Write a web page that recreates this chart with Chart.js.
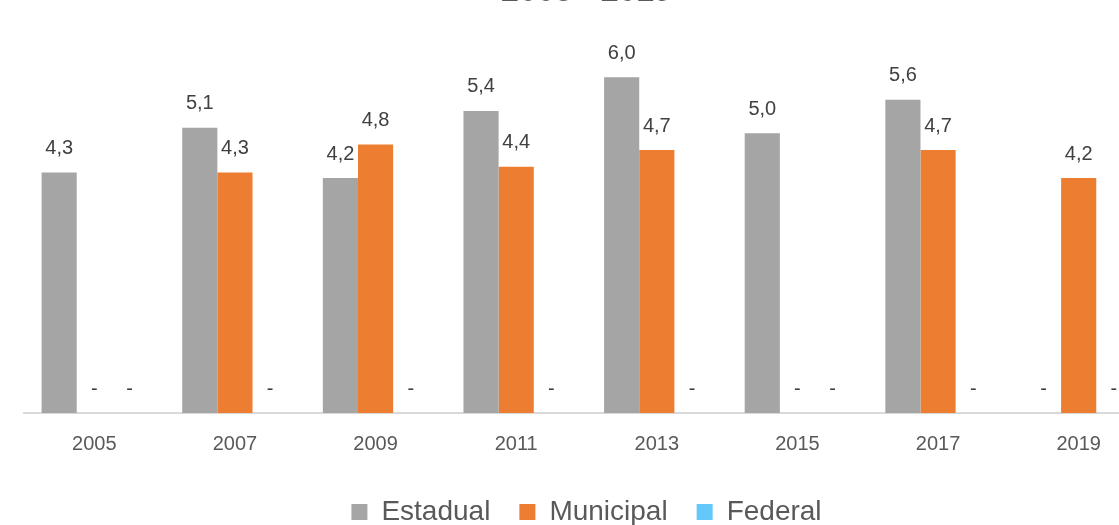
<!DOCTYPE html>
<html>
<head>
<meta charset="utf-8">
<script src="https://cdn.jsdelivr.net/npm/chart.js@4"></script>
<style>
    html, body {
        margin: 0;
        padding: 0;
        width: 1119px;
        height: 525px;
        overflow: hidden;
        background: #ffffff;
    }
    #wrap {
        position: relative;
        width: 1119px;
        height: 525px;
        overflow: hidden;
    }
    #chart {
        position: absolute;
        left: 0;
        top: -40px;
    }
</style>
</head>
<body>
<div id="wrap">
    <canvas id="chart" width="1150" height="576"></canvas>
</div>
<script>
// Anos e valores por rede de ensino
const years = ['2005', '2007', '2009', '2011', '2013', '2015', '2017', '2019'];
const estadual = [4.3, 5.1, 4.2, 5.4, 6.0, 5.0, 5.6, 0];
const municipal = [0, 4.3, 4.8, 4.4, 4.7, 0, 4.7, 4.2];
const federal = [0, 0, 0, 0, 0, 0, 0, 0];

const FONT = '"Liberation Sans", Arial, sans-serif';

// Writes the value above each bar, or a dash when it is zero
const barLabels = {
    id: 'barLabels',
    afterDatasetsDraw(chart) {
        const ctx = chart.ctx;
        ctx.save();
        ctx.font = '20px ' + FONT;
        ctx.fillStyle = '#404040';
        ctx.textAlign = 'center';
        ctx.textBaseline = 'middle';
        chart.data.datasets.forEach((ds, i) => {
            const meta = chart.getDatasetMeta(i);
            meta.data.forEach((bar, j) => {
                const v = ds.data[j];
                const text = v === 0 ? '-' : v.toFixed(1).replace('.', ',');
                ctx.fillText(text, bar.x, bar.y - 24);
            });
        });
        ctx.restore();
    }
};

const ctx = document.getElementById('chart').getContext('2d');
new Chart(ctx, {
    type: 'bar',
    data: {
        labels: years,
        datasets: [
            { label: 'Estadual', data: estadual, backgroundColor: '#A5A5A5' },
            { label: 'Municipal', data: municipal, backgroundColor: '#ED7D31' },
            { label: 'Federal', data: federal, backgroundColor: '#63C8FA' },
        ],
    },
    options: {
        responsive: false,
        animation: false,
        devicePixelRatio: 1,
        layout: {
            padding: { left: 24, right: 1, top: 0, bottom: 0 },
        },
        datasets: {
            bar: {
                categoryPercentage: 0.75,
                barPercentage: 1.0,
            },
        },
        plugins: {
            title: {
                display: true,
                text: '2005 - 2019',
                color: '#595959',
                font: { family: FONT, size: 32 },
                padding: { top: 12.5, bottom: 10.5 },
            },
            legend: {
                position: 'bottom',
                labels: {
                    color: '#595959',
                    font: { family: FONT, size: 28 },
                    boxWidth: 16,
                    boxHeight: 16,
                    padding: 29,
                },
            },
            tooltip: { enabled: false },
        },
        scales: {
            x: {
                grid: { display: false, drawTicks: false },
                border: { color: '#D9D9D9', width: 2 },
                ticks: {
                    color: '#595959',
                    font: { family: FONT, size: 20, lineHeight: 0.55 },
                    padding: 26,
                },
                // keep the axis band tight so the legend gap stays the same
                afterFit(scale) {
                    scale.height -= 7;
                },
            },
            y: {
                display: false,
                min: 0,
                max: 7,
            },
        },
    },
    plugins: [barLabels],
});
</script>
</body>
</html>
